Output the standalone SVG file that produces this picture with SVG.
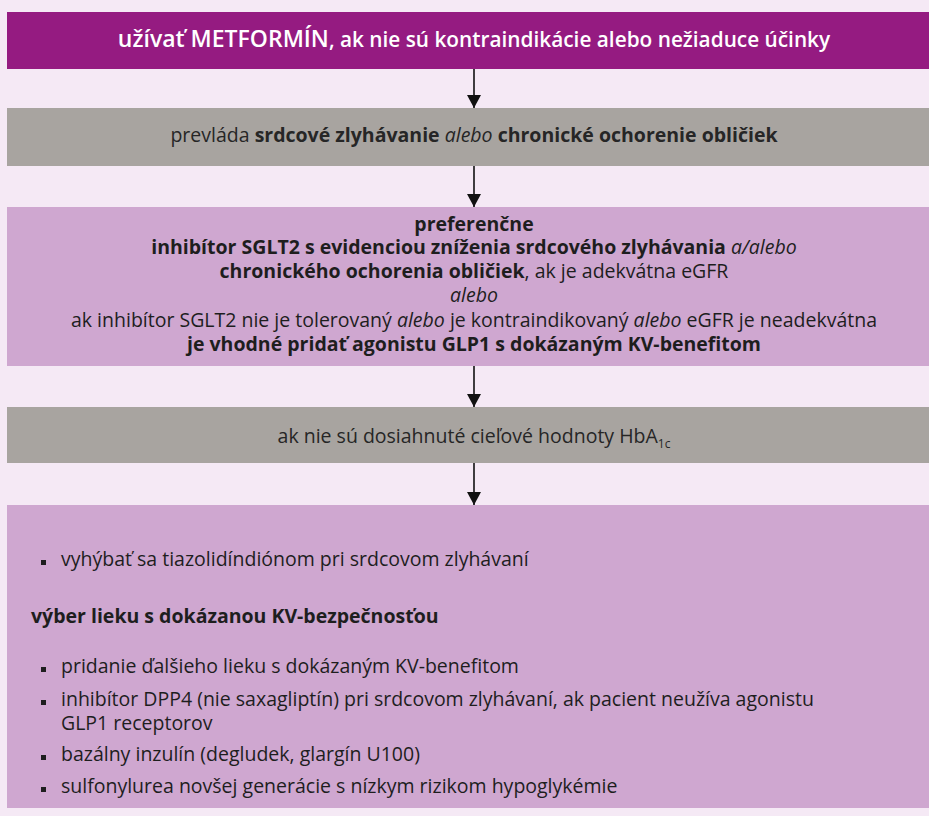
<svg xmlns="http://www.w3.org/2000/svg" width="929" height="816" viewBox="0 0 929 816">
<defs>
<style>
text{font-family:"Open Sans","Noto Sans","DejaVu Sans",sans-serif;font-size:19.5px;font-weight:400;fill:#1e1e1e}
.c{text-anchor:middle}
.b{font-weight:700}
.i{font-style:italic}
.w{fill:#ffffff;font-weight:600}
.g{fill:#262626}
.bar-p{fill:#951b81}
.bar-g{fill:#a8a4a0}
.box{fill:#cfa7d0}
.con{stroke:#111;stroke-width:1.6;fill:none;marker-end:url(#ah)}
.bul{fill:#1e1e1e}
</style>
<marker id="ah" markerUnits="userSpaceOnUse" markerWidth="14" markerHeight="14" refX="13" refY="7" orient="auto">
<path d="M0,0 L13,7 L0,14 z" fill="#111"/>
</marker>
</defs>
<rect x="0" y="0" width="929" height="816" fill="#f5e9f5"/>

<g id="connectors">
<line class="con" x1="474" y1="69" x2="474" y2="108"/>
<line class="con" x1="474" y1="166" x2="474" y2="207"/>
<line class="con" x1="474" y1="366" x2="474" y2="407"/>
<line class="con" x1="474" y1="463" x2="474" y2="505"/>
</g>

<g id="node-metformin">
<rect class="bar-p" x="7" y="12" width="922" height="57"/>
<text class="c w" x="474" y="47"><tspan font-size="23">užívať METFORMÍN</tspan><tspan font-size="20.8">, ak nie sú kontraindikácie alebo nežiaduce účinky</tspan></text>
</g>

<g id="node-prevlada">
<rect class="bar-g" x="7" y="108" width="922" height="58"/>
<text class="c g" x="474" y="142">prevláda <tspan class="b">srdcové zlyhávanie</tspan> <tspan class="i">alebo</tspan> <tspan class="b">chronické ochorenie obličiek</tspan></text>
</g>

<g id="node-preferencne">
<rect class="box" x="7" y="207" width="922" height="159"/>
<text class="c"><tspan class="b" x="474" y="231">preferenčne</tspan><tspan x="474" y="254"><tspan class="b">inhibítor SGLT2 s evidenciou zníženia srdcového zlyhávania</tspan> <tspan class="i">a/alebo</tspan></tspan><tspan x="474" y="278"><tspan class="b">chronického ochorenia obličiek</tspan>, ak je adekvátna eGFR</tspan><tspan class="i" x="474" y="302">alebo</tspan><tspan x="474" y="327">ak inhibítor SGLT2 nie je tolerovaný <tspan class="i">alebo</tspan> je kontraindikovaný <tspan class="i">alebo</tspan> eGFR je neadekvátna</tspan><tspan class="b" x="474" y="351">je vhodné pridať agonistu GLP1 s dokázaným KV-benefitom</tspan></text>
</g>

<g id="node-hba1c">
<rect class="bar-g" x="7" y="407" width="922" height="56"/>
<text class="c g" x="474" y="443">ak nie sú dosiahnuté cieľové hodnoty HbA<tspan font-size="12" dy="5">1c</tspan></text>
</g>

<g id="node-dalsie">
<rect class="box" x="7" y="505" width="922" height="303"/>
<rect class="bul" x="41" y="560" width="5" height="5"/>
<text x="61" y="566">vyhýbať sa tiazolidíndiónom pri srdcovom zlyhávaní</text>
<text class="b" x="31" y="623">výber lieku s dokázanou KV-bezpečnosťou</text>
<rect class="bul" x="41" y="667" width="5" height="5"/>
<text x="61" y="673">pridanie ďalšieho lieku s dokázaným KV-benefitom</text>
<rect class="bul" x="41" y="700" width="5" height="5"/>
<text><tspan x="61" y="706">inhibítor DPP4 (nie saxagliptín) pri srdcovom zlyhávaní, ak pacient neužíva agonistu</tspan><tspan x="61" y="730">GLP1 receptorov</tspan></text>
<rect class="bul" x="41" y="755" width="5" height="5"/>
<text x="61" y="761">bazálny inzulín (degludek, glargín U100)</text>
<rect class="bul" x="41" y="787" width="5" height="5"/>
<text x="61" y="793">sulfonylurea novšej generácie s nízkym rizikom hypoglykémie</text>
</g>
</svg>
